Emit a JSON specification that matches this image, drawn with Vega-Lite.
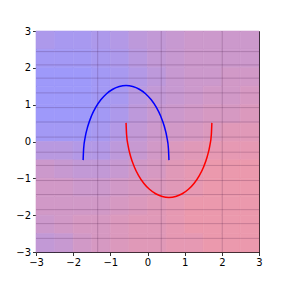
{
  "$schema": "https://vega.github.io/schema/vega-lite/v6.json",
  "width": 223,
  "height": 221,
  "autosize": {"type": "none"},
  "padding": {"left": 36, "top": 31, "right": 29, "bottom": 36},
  "background": "white",
  "config": {
    "view": {"stroke": "#000", "strokeWidth": 1},
    "axis": {
      "grid": false,
      "domain": false,
      "tickColor": "#000",
      "tickSize": 3.5,
      "tickWidth": 0.8,
      "labelColor": "#000",
      "labelFont": "DejaVu Sans",
      "labelFontSize": 10,
      "labelPadding": 2,
      "labelOverlap": false,
      "labelBound": false,
      "labelFlush": false,
      "title": null
    }
  },
  "encoding": {
    "x": {"type": "quantitative", "scale": {"domain": [-3, 3], "nice": false, "zero": false}, "axis": {"values": [-3,-2,-1,0,1,2,3], "tickCount": 7, "labelOverlap": false}},
    "y": {"type": "quantitative", "scale": {"domain": [-3, 3], "nice": false, "zero": false}, "axis": {"values": [-3,-2,-1,0,1,2,3], "tickCount": 7, "labelOverlap": false}}
  },
  "layer": [
    {
      "data": {"values": [
        {"y0": 2.5, "y1": 3, "x0": [-3,-2.5,-2,-1.5,-1,-0.5,0,0.5,1,1.5,2,2.5], "x1": [-2.5,-2,-1.5,-1,-0.5,0,0.5,1,1.5,2,2.5,3], "p": [0.2,0.15,0.15,0.2,0.25,0.35,0.4,0.45,0.5,0.5,0.5,0.5]},
        {"y0": 2, "y1": 2.5, "x0": [-3,-2.5,-2,-1.5,-1,-0.5,0,0.5,1,1.5,2,2.5], "x1": [-2.5,-2,-1.5,-1,-0.5,0,0.5,1,1.5,2,2.5,3], "p": [0.1,0.1,0.1,0.15,0.2,0.3,0.4,0.45,0.5,0.5,0.5,0.5]},
        {"y0": 1.5, "y1": 2, "x0": [-3,-2.5,-2,-1.5,-1,-0.5,0,0.5,1,1.5,2,2.5], "x1": [-2.5,-2,-1.5,-1,-0.5,0,0.5,1,1.5,2,2.5,3], "p": [0.05,0.05,0.05,0.1,0.15,0.25,0.35,0.45,0.5,0.5,0.55,0.55]},
        {"y0": 1, "y1": 1.5, "x0": [-3,-2.5,-2,-1.5,-1,-0.5,0,0.5,1,1.5,2,2.5], "x1": [-2.5,-2,-1.5,-1,-0.5,0,0.5,1,1.5,2,2.5,3], "p": [0.05,0.05,0.05,0.1,0.15,0.3,0.4,0.45,0.5,0.55,0.55,0.6]},
        {"y0": 0.5, "y1": 1, "x0": [-3,-2.5,-2,-1.5,-1,-0.5,0,0.5,1,1.5,2,2.5], "x1": [-2.5,-2,-1.5,-1,-0.5,0,0.5,1,1.5,2,2.5,3], "p": [0.05,0.05,0.05,0.1,0.2,0.35,0.45,0.5,0.55,0.6,0.6,0.65]},
        {"y0": 0, "y1": 0.5, "x0": [-3,-2.5,-2,-1.5,-1,-0.5,0,0.5,1,1.5,2,2.5], "x1": [-2.5,-2,-1.5,-1,-0.5,0,0.5,1,1.5,2,2.5,3], "p": [0.1,0.1,0.1,0.15,0.25,0.4,0.5,0.55,0.6,0.65,0.7,0.7]},
        {"y0": -0.5, "y1": 0, "x0": [-3,-2.5,-2,-1.5,-1,-0.5,0,0.5,1,1.5,2,2.5], "x1": [-2.5,-2,-1.5,-1,-0.5,0,0.5,1,1.5,2,2.5,3], "p": [0.3,0.3,0.25,0.25,0.35,0.45,0.55,0.65,0.7,0.75,0.75,0.75]},
        {"y0": -1, "y1": -0.5, "x0": [-3,-2.5,-2,-1.5,-1,-0.5,0,0.5,1,1.5,2,2.5], "x1": [-2.5,-2,-1.5,-1,-0.5,0,0.5,1,1.5,2,2.5,3], "p": [0.5,0.45,0.4,0.4,0.45,0.55,0.6,0.7,0.75,0.8,0.8,0.8]},
        {"y0": -1.5, "y1": -1, "x0": [-3,-2.5,-2,-1.5,-1,-0.5,0,0.5,1,1.5,2,2.5], "x1": [-2.5,-2,-1.5,-1,-0.5,0,0.5,1,1.5,2,2.5,3], "p": [0.55,0.55,0.5,0.5,0.55,0.6,0.65,0.7,0.75,0.8,0.8,0.8]},
        {"y0": -2, "y1": -1.5, "x0": [-3,-2.5,-2,-1.5,-1,-0.5,0,0.5,1,1.5,2,2.5], "x1": [-2.5,-2,-1.5,-1,-0.5,0,0.5,1,1.5,2,2.5,3], "p": [0.55,0.55,0.55,0.55,0.6,0.65,0.7,0.75,0.8,0.8,0.8,0.8]},
        {"y0": -2.5, "y1": -2, "x0": [-3,-2.5,-2,-1.5,-1,-0.5,0,0.5,1,1.5,2,2.5], "x1": [-2.5,-2,-1.5,-1,-0.5,0,0.5,1,1.5,2,2.5,3], "p": [0.5,0.55,0.6,0.6,0.65,0.7,0.7,0.75,0.8,0.8,0.8,0.8]},
        {"y0": -3, "y1": -2.5, "x0": [-3,-2.5,-2,-1.5,-1,-0.5,0,0.5,1,1.5,2,2.5], "x1": [-2.5,-2,-1.5,-1,-0.5,0,0.5,1,1.5,2,2.5,3], "p": [0.4,0.45,0.55,0.6,0.65,0.7,0.7,0.75,0.75,0.8,0.8,0.8]}
      ]},
      "transform": [{"flatten": ["x0", "x1", "p"]}],
      "mark": {"type": "rect", "strokeWidth": 0.6},
      "encoding": {
        "x": {"field": "x0", "type": "quantitative"},
        "x2": {"field": "x1"},
        "y": {"field": "y0", "type": "quantitative"},
        "y2": {"field": "y1"},
        "color": {"field": "p", "type": "quantitative", "scale": {"domain": [0, 1], "range": ["#9999ff", "#ff9999"], "interpolate": "rgb"}, "legend": null},
        "stroke": {"field": "p", "type": "quantitative", "scale": {"domain": [0, 1], "range": ["#9999ff", "#ff9999"], "interpolate": "rgb"}, "legend": null}
      }
    },
    {
      "data": {"values": [{"gx": -1.34}, {"gx": 0.37}, {"gx": 2.01}]},
      "mark": {"type": "rule", "color": "#300030", "opacity": 0.2, "strokeWidth": 1},
      "encoding": {"x": {"field": "gx", "type": "quantitative"}}
    },
    {
      "data": {"values": [{"gy": 2.44}, {"gy": 2.08}, {"gy": 1.72}, {"gy": 1.32}, {"gy": 0.92}, {"gy": 0.53}, {"gy": 0.12}, {"gy": -0.29}, {"gy": -0.65}, {"gy": -1.06}, {"gy": -1.44}, {"gy": -1.85}, {"gy": -2.23}, {"gy": -2.63}]},
      "mark": {"type": "rule", "color": "#300030", "opacity": 0.2, "strokeWidth": 1},
      "encoding": {"y": {"field": "gy", "type": "quantitative"}}
    },
    {
      "data": {"values": [
        {"s": "outer", "i": 0, "x": 0.577, "y": -0.506},
        {"s": "outer", "i": 1, "x": 0.563, "y": -0.190},
        {"s": "outer", "i": 2, "x": 0.521, "y": 0.119},
        {"s": "outer", "i": 3, "x": 0.452, "y": 0.413},
        {"s": "outer", "i": 4, "x": 0.357, "y": 0.684},
        {"s": "outer", "i": 5, "x": 0.239, "y": 0.925},
        {"s": "outer", "i": 6, "x": 0.101, "y": 1.132},
        {"s": "outer", "i": 7, "x": -0.053, "y": 1.298},
        {"s": "outer", "i": 8, "x": -0.221, "y": 1.419},
        {"s": "outer", "i": 9, "x": -0.397, "y": 1.493},
        {"s": "outer", "i": 10, "x": -0.577, "y": 1.518},
        {"s": "outer", "i": 11, "x": -0.758, "y": 1.493},
        {"s": "outer", "i": 12, "x": -0.934, "y": 1.419},
        {"s": "outer", "i": 13, "x": -1.102, "y": 1.298},
        {"s": "outer", "i": 14, "x": -1.256, "y": 1.132},
        {"s": "outer", "i": 15, "x": -1.394, "y": 0.925},
        {"s": "outer", "i": 16, "x": -1.512, "y": 0.684},
        {"s": "outer", "i": 17, "x": -1.606, "y": 0.413},
        {"s": "outer", "i": 18, "x": -1.676, "y": 0.119},
        {"s": "outer", "i": 19, "x": -1.718, "y": -0.190},
        {"s": "outer", "i": 20, "x": -1.732, "y": -0.506},
        {"s": "inner", "i": 0, "x": -0.577, "y": 0.506},
        {"s": "inner", "i": 1, "x": -0.563, "y": 0.190},
        {"s": "inner", "i": 2, "x": -0.521, "y": -0.119},
        {"s": "inner", "i": 3, "x": -0.452, "y": -0.413},
        {"s": "inner", "i": 4, "x": -0.357, "y": -0.684},
        {"s": "inner", "i": 5, "x": -0.239, "y": -0.925},
        {"s": "inner", "i": 6, "x": -0.101, "y": -1.132},
        {"s": "inner", "i": 7, "x": 0.053, "y": -1.298},
        {"s": "inner", "i": 8, "x": 0.221, "y": -1.419},
        {"s": "inner", "i": 9, "x": 0.397, "y": -1.493},
        {"s": "inner", "i": 10, "x": 0.577, "y": -1.518},
        {"s": "inner", "i": 11, "x": 0.758, "y": -1.493},
        {"s": "inner", "i": 12, "x": 0.934, "y": -1.419},
        {"s": "inner", "i": 13, "x": 1.102, "y": -1.298},
        {"s": "inner", "i": 14, "x": 1.256, "y": -1.132},
        {"s": "inner", "i": 15, "x": 1.394, "y": -0.925},
        {"s": "inner", "i": 16, "x": 1.512, "y": -0.684},
        {"s": "inner", "i": 17, "x": 1.606, "y": -0.413},
        {"s": "inner", "i": 18, "x": 1.676, "y": -0.119},
        {"s": "inner", "i": 19, "x": 1.718, "y": 0.190},
        {"s": "inner", "i": 20, "x": 1.732, "y": 0.506}
      ]},
      "mark": {"type": "line", "strokeWidth": 1.5, "interpolate": "monotone"},
      "encoding": {
        "x": {"field": "x", "type": "quantitative"},
        "y": {"field": "y", "type": "quantitative"},
        "order": {"field": "i", "type": "quantitative"},
        "color": {"field": "s", "type": "nominal", "scale": {"domain": ["outer", "inner"], "range": ["#0000ff", "#ff0000"]}, "legend": null}
      }
    }
  ]
}
